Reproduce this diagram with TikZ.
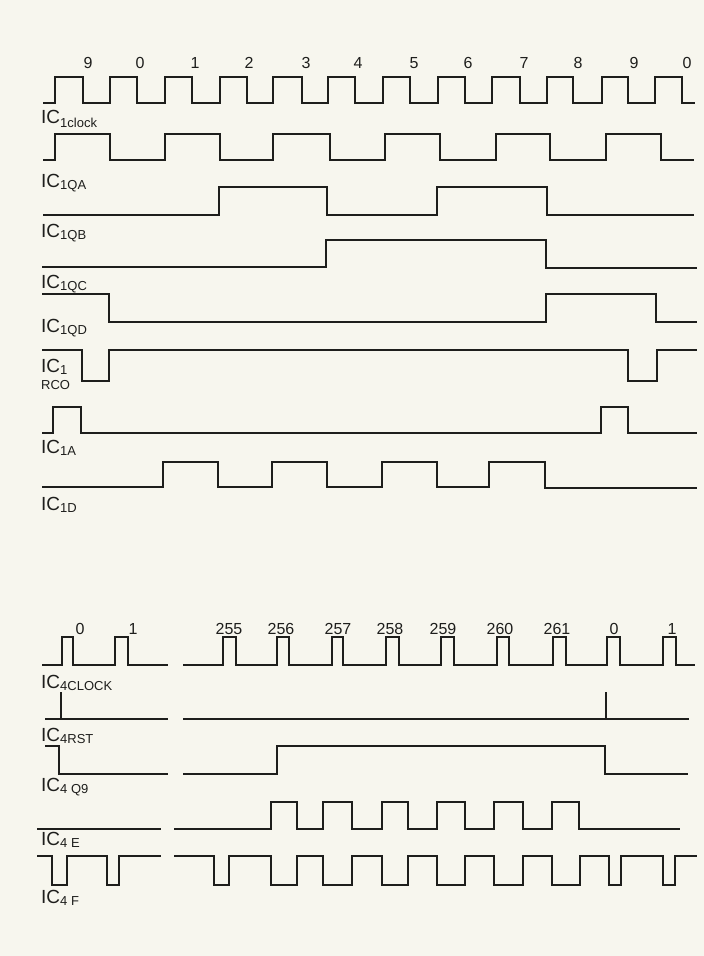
\documentclass[tikz,border=0pt]{standalone}
\usepackage{fontspec}
\setmainfont{Liberation Sans}
\definecolor{paper}{RGB}{247,246,238}
\definecolor{ink}{RGB}{30,30,28}
\newcommand\sigsub[1]{\raisebox{-2.5pt}{\fontsize{13}{13}\selectfont #1}}
\tikzset{
  wave/.style={draw=ink, line width=2pt, line join=miter},
  lab/.style={anchor=base west, inner sep=0pt, text=ink, font=\fontsize{19}{19}\selectfont},
  num/.style={anchor=base, inner sep=0pt, text=ink, font=\fontsize{16}{16}\selectfont}
}
\begin{document}
\begin{tikzpicture}[x=1pt,y=-1pt]
\useasboundingbox (0,0) rectangle (704,956);
\fill[paper] (0,0) rectangle (704,956);

% ---------- top clock ----------
\draw[wave] (43,103) -- (55,103) -- (55,77) -- (83,77) -- (83,103)
  -- (110,103) -- (110,77) -- (137,77) -- (137,103)
  -- (165,103) -- (165,77) -- (192,77) -- (192,103)
  -- (220,103) -- (220,77) -- (247,77) -- (247,103)
  -- (273,103) -- (273,77) -- (302,77) -- (302,103)
  -- (328,103) -- (328,77) -- (355,77) -- (355,103)
  -- (383,103) -- (383,77) -- (410,77) -- (410,103)
  -- (438,103) -- (438,77) -- (465,77) -- (465,103)
  -- (492,103) -- (492,77) -- (520,77) -- (520,103)
  -- (547,103) -- (547,77) -- (573,77) -- (573,103)
  -- (602,103) -- (602,77) -- (628,77) -- (628,103)
  -- (655,103) -- (655,77) -- (682,77) -- (682,103) -- (695,103);
\foreach \x/\t [count=\i] in {88/9,140/0,195/1,249/2,306/3,358/4,414/5,468/6,524/7,578/8,634/9,687/0}
  \node[num] (tn\i) at (\x,68) {\t};
\node[lab] (lclk) at (41,123) {IC\raisebox{-4.5pt}{\fontsize{13}{13}\selectfont 1clock}};

% ---------- QA ----------
\draw[wave] (43,160) -- (55,160) -- (55,134) -- (110,134) -- (110,160)
  -- (165,160) -- (165,134) -- (220,134) -- (220,160)
  -- (273,160) -- (273,134) -- (330,134) -- (330,160)
  -- (385,160) -- (385,134) -- (440,134) -- (440,160)
  -- (496,160) -- (496,134) -- (550,134) -- (550,160)
  -- (606,160) -- (606,134) -- (661,134) -- (661,160) -- (694,160);
\node[lab] (lqa) at (41,187) {IC\sigsub{1QA}};

% ---------- QB ----------
\draw[wave] (43,215) -- (219,215) -- (219,187) -- (327,187) -- (327,215)
  -- (437,215) -- (437,187) -- (547,187) -- (547,215) -- (694,215);
\node[lab] (lqb) at (41,237) {IC\sigsub{1QB}};

% ---------- QC ----------
\draw[wave] (42,267) -- (326,267) -- (326,240) -- (546,240) -- (546,268) -- (697,268);
\node[lab] (lqc) at (41,288) {IC\sigsub{1QC}};

% ---------- QD ----------
\draw[wave] (42,294) -- (109,294) -- (109,322) -- (546,322) -- (546,294)
  -- (656,294) -- (656,322) -- (697,322);
\node[lab] (lqd) at (41,332) {IC\sigsub{1QD}};

% ---------- RCO ----------
\draw[wave] (42,350) -- (82,350) -- (82,381) -- (109,381) -- (109,350)
  -- (628,350) -- (628,381) -- (657,381) -- (657,350) -- (697,350);
\node[lab] (lrco) at (41,372) {IC\sigsub{1}};
\node[lab, font=\fontsize{13}{13}\selectfont] (lrco2) at (41,389) {RCO};

% ---------- 1A ----------
\draw[wave] (42,433) -- (53,433) -- (53,407) -- (81,407) -- (81,433)
  -- (601,433) -- (601,407) -- (628,407) -- (628,433) -- (697,433);
\node[lab] (l1a) at (41,453) {IC\sigsub{1A}};

% ---------- 1D ----------
\draw[wave] (42,487) -- (163,487) -- (163,462) -- (218,462) -- (218,487)
  -- (272,487) -- (272,462) -- (327,462) -- (327,487)
  -- (382,487) -- (382,462) -- (437,462) -- (437,487)
  -- (489,487) -- (489,462) -- (545,462) -- (545,488) -- (697,488);
\node[lab] (l1d) at (41,510) {IC\sigsub{1D}};

% ---------- bottom clock ----------
\draw[wave] (42,665) -- (62,665) -- (62,637) -- (73,637) -- (73,665)
  -- (115,665) -- (115,637) -- (128,637) -- (128,665) -- (168,665);
\draw[wave] (183,665)
  -- (223,665) -- (223,637) -- (236,637) -- (236,665)
  -- (277,665) -- (277,637) -- (289,637) -- (289,665)
  -- (332,665) -- (332,637) -- (343,637) -- (343,665)
  -- (386,665) -- (386,637) -- (399,637) -- (399,665)
  -- (441,665) -- (441,637) -- (454,637) -- (454,665)
  -- (497,665) -- (497,637) -- (509,637) -- (509,665)
  -- (553,665) -- (553,637) -- (566,637) -- (566,665)
  -- (607,665) -- (607,637) -- (620,637) -- (620,665)
  -- (663,665) -- (663,637) -- (676,637) -- (676,665) -- (695,665);
\foreach \x/\t [count=\i] in {80/0,133/1,229/255,281/256,338/257,390/258,443/259,500/260,557/261,614/0,672/1}
  \node[num] (bn\i) at (\x,634) {\t};
\node[lab] (l4clk) at (41,688) {IC\sigsub{4CLOCK}};

% ---------- RST ----------
\draw[wave] (45,719) -- (168,719);
\draw[wave] (61,719) -- (61,692);
\draw[wave] (183,719) -- (689,719);
\draw[wave] (606,719) -- (606,692);
\node[lab] (l4rst) at (41,741) {IC\sigsub{4RST}};

% ---------- Q9 ----------
\draw[wave] (45,746) -- (59,746) -- (59,774) -- (168,774);
\draw[wave] (183,774) -- (277,774) -- (277,746) -- (605,746) -- (605,774) -- (688,774);
\node[lab] (l4q9) at (41,791) {IC\sigsub{4 Q9}};

% ---------- E ----------
\draw[wave] (37,829) -- (161,829);
\draw[wave] (174,829) -- (271,829) -- (271,802) -- (297,802) -- (297,829)
  -- (323,829) -- (323,802) -- (352,802) -- (352,829)
  -- (382,829) -- (382,802) -- (408,802) -- (408,829)
  -- (437,829) -- (437,802) -- (465,802) -- (465,829)
  -- (494,829) -- (494,802) -- (523,802) -- (523,829)
  -- (552,829) -- (552,802) -- (579,802) -- (579,829) -- (680,829);
\node[lab] (l4e) at (41,845) {IC\sigsub{4 E}};

% ---------- F ----------
\draw[wave] (37,856) -- (52,856) -- (52,885) -- (67,885) -- (67,856)
  -- (107,856) -- (107,885) -- (119,885) -- (119,856) -- (161,856);
\draw[wave] (174,856) -- (214,856) -- (214,885) -- (229,885) -- (229,856)
  -- (271,856) -- (271,885) -- (297,885) -- (297,856)
  -- (323,856) -- (323,885) -- (352,885) -- (352,856)
  -- (382,856) -- (382,885) -- (408,885) -- (408,856)
  -- (437,856) -- (437,885) -- (465,885) -- (465,856)
  -- (494,856) -- (494,885) -- (523,885) -- (523,856)
  -- (552,856) -- (552,885) -- (580,885) -- (580,856)
  -- (609,856) -- (609,885) -- (621,885) -- (621,856)
  -- (663,856) -- (663,885) -- (675,885) -- (675,856) -- (697,856);
\node[lab] (l4f) at (41,903) {IC\sigsub{4 F}};
\end{tikzpicture}
\end{document}
